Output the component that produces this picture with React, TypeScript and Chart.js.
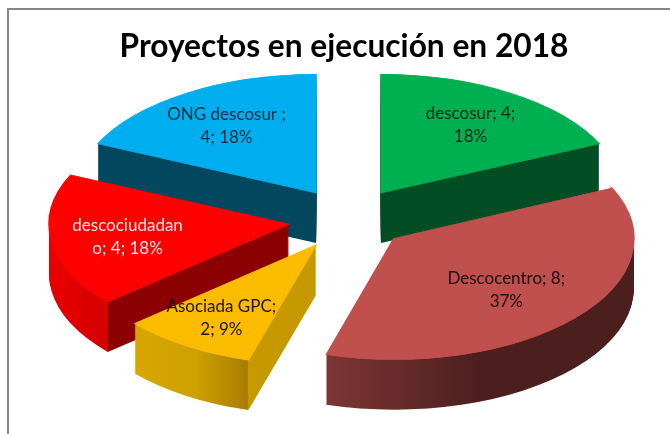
import React, { useEffect, useRef } from "react";
import { Chart, registerables } from "chart.js";

Chart.register(...registerables);

const categories = ["descosur", "Descocentro", "Asociada GPC", "descociudadano", "ONG descosur"];
const projectCounts = [4, 8, 2, 4, 4];
const dataLabels = [
  ["descosur; 4;", "18%"],
  ["Descocentro; 8;", "37%"],
  ["Asociada GPC;", "2; 9%"],
  ["descociudadan", "o; 4; 18%"],
  ["ONG descosur ;", "4; 18%"],
];
const titleText = "Proyectos en ejecución en 2018";
const topColors = ["#00b050", "#c0504d", "#fbbc00", "#ff0000", "#00aeef"];
const labelColors = ["#0a2a18", "#1c0c0b", "#1c1500", "#ffe8e8", "#08303f"];
const labelDistance = [0.69, 0.62, 0.73, 0.68, 0.69];
const labelDrop = [0.5, 2, -1, 1, 1.5];
// the reference has a slight perspective: nearer slices sit lower and look less flattened
const sliceTilt = [0.4945, 0.505, 0.5, 0.4945, 0.4945];
const sliceDrop = [0, 1, 2, 2, 0];
// wall shading: [horizontal position in radius units from the slice tip, colour]
const wallStops: [number, string][][] = [
  [[0, "#034d24"], [1, "#034d24"]],
  [[-0.2817, "#7d3634"], [0.36, "#4c1f1e"], [1, "#4a1f1e"]],
  [[-0.756, "#d9a600"], [-0.5, "#cda100"], [-0.2817, "#a87b00"], [-0.2817, "#c79900"], [0, "#c79900"]],
  [[-1, "#e80000"], [-0.756, "#d40000"], [-0.756, "#8b0000"], [0, "#8b0000"]],
  [[-1, "#03475f"], [0, "#03475f"]],
];
const paintOrder = [4, 0, 3, 1, 2];

const PIE_RADIUS = 240;
const EXPLODE = 60;
const TILT = 0.4945;
const DEPTH = 50;
const CENTER_X = 348.5;
const CENTER_Y = 218;

const pie3d = {
  id: "pie3d",
  beforeDatasetDraw: () => false,
  afterDatasetsDraw(chart: any) {
    const ctx: CanvasRenderingContext2D = chart.ctx;
    const arcs = chart.getDatasetMeta(0).data;
    const tipOf = (arc: any, i: number) => {
      const half = (arc.startAngle + arc.endAngle) / 2;
      return {
        half,
        x: CENTER_X + Math.cos(half) * EXPLODE,
        y: CENTER_Y + Math.sin(half) * EXPLODE * TILT + sliceDrop[i],
      };
    };
    const drawLayer = (arc: any, i: number, drop: number, fill: any, edge: number) => {
      const tip = tipOf(arc, i);
      const view = Object.create(arc);
      view.options = { ...arc.options, backgroundColor: fill, borderColor: fill, borderWidth: edge, borderJoinStyle: "miter", borderAlign: "center" };
      ctx.save();
      ctx.translate(tip.x, tip.y + drop);
      ctx.scale(1, sliceTilt[i]);
      ctx.translate(-arc.x, -arc.y);
      view.draw(ctx);
      ctx.restore();
    };
    for (const i of paintOrder) {
      const arc = arcs[i];
      const R = arc.outerRadius;
      const g = ctx.createLinearGradient(arc.x - R, 0, arc.x + R, 0);
      for (const [f, c] of wallStops[i]) g.addColorStop((f + 1) / 2, c);
      for (let d = DEPTH; d >= 1; d--) drawLayer(arc, i, d, g, 0);
      drawLayer(arc, i, 0, topColors[i], 1.5);
    }
    ctx.save();
    ctx.font = "17px Lato";
    ctx.textAlign = "center";
    ctx.textBaseline = "middle";
    arcs.forEach((arc: any, i: number) => {
      const tip = tipOf(arc, i);
      const r = labelDistance[i] * arc.outerRadius;
      const x = tip.x + Math.cos(tip.half) * r;
      const y = tip.y + Math.sin(tip.half) * r * sliceTilt[i] + labelDrop[i];
      ctx.fillStyle = labelColors[i];
      dataLabels[i].forEach((line, n) => ctx.fillText(line, x, y + (n - 0.5) * 23));
    });
    ctx.restore();
  },
};

export default function App() {
  const ref = useRef<HTMLCanvasElement>(null);
  useEffect(() => {
    const chart = new Chart(ref.current!, {
      type: "pie",
      data: {
        labels: categories,
        datasets: [{ data: projectCounts, backgroundColor: topColors, borderWidth: 0, radius: PIE_RADIUS } as any],
      },
      options: {
        animation: false,
        responsive: false,
        layout: { padding: { left: 18 } },
        plugins: {
          legend: { display: false },
          tooltip: { enabled: false },
          title: {
            display: true,
            text: titleText,
            color: "#000000",
            font: { family: "Lato", weight: "bold", size: 31.7 },
            padding: { top: 28, bottom: 0 },
          },
        },
      },
      plugins: [pie3d as any],
    });
    return () => chart.destroy();
  }, []);
  return (
    <div style={{ position: "fixed", left: 0, top: 0, width: 670, height: 434, background: "#fff", overflow: "hidden" }}>
      <div
        style={{
          position: "absolute",
          left: 7,
          top: 8,
          width: 663,
          height: 426,
          boxSizing: "border-box",
          borderLeft: "2px solid #868686",
          borderTop: "2px solid #868686",
        }}
      />
      <canvas ref={ref} width={670} height={434} style={{ position: "absolute", left: 0, top: 0 }} />
    </div>
  );
}
